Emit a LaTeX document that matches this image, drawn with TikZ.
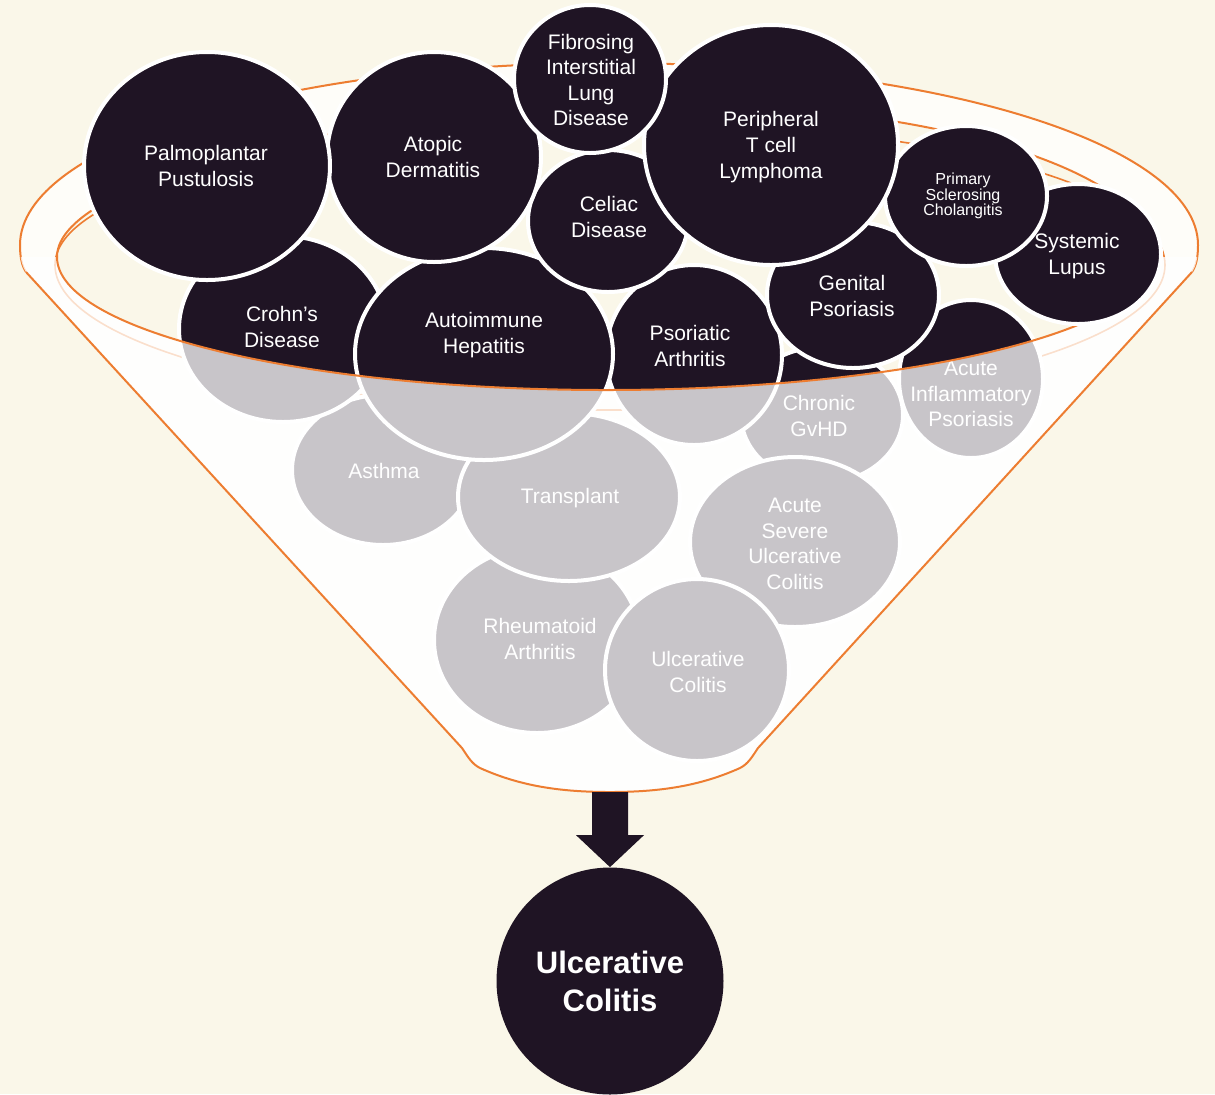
\documentclass[tikz,border=0pt]{standalone}
\usepackage{fontspec}
\setmainfont{Liberation Sans}
\usetikzlibrary{shapes.geometric,calc}
\definecolor{bgc}{RGB}{250,247,233}
\definecolor{bandc}{RGB}{254,253,249}
\definecolor{darkc}{RGB}{31,20,36}
\definecolor{orangec}{RGB}{237,125,49}
\begin{document}
\begin{tikzpicture}[x=0.5pt,y=-0.5pt,
  bubble/.style={ellipse, draw=white, line width=2pt, fill=darkc, inner sep=0pt},
  lbl/.style={text=white, align=center, font=\fontsize{10.5}{12.8}\selectfont, inner sep=0pt},
  smalllbl/.style={text=white, align=center, font=\fontsize{8}{7.8}\selectfont, inner sep=0pt},
  rim/.style={draw=orangec, line width=1pt},
  rimthin/.style={draw=orangec, line width=0.8pt}]
\useasboundingbox (0,0) rectangle (1215,1094);
\fill[bgc] (0,0) rectangle (1215,1094);
% funnel body
\fill[bandc] (20,245) .. controls (20,144.5) and (284,63) .. (609,63) .. controls (934,63) and (1198,144.5) .. (1198,245) .. controls (1198,258) and (1196,266) .. (1192,272) -- (758,748) .. controls (752,757) and (748,764) .. (740,768) .. controls (700,786) and (660,792) .. (610,792) .. controls (560,792) and (520,786) .. (480,768) .. controls (472,764) and (468,757) .. (462,748) -- (26,272) .. controls (22,266) and (20,258) .. (20,245) -- cycle;
% interior of inner rim
\fill[bgc] (57,257) .. controls (57,175) and (380,106) .. (655,104) .. controls (929,102) and (1155,170) .. (1155,257) .. controls (1155,330.4) and (909,390) .. (606,390) .. controls (303,390) and (57,330.4) .. (57,257) -- cycle;
% lower rim edge
\draw[rimthin] (55,265) .. controls (55,185) and (325,125) .. (655,125) .. controls (935,125) and (1165,185) .. (1165,265) .. controls (1165,345) and (916,410) .. (610,410) .. controls (304,410) and (55,345) .. (55,265) -- cycle;
% back of inner rim
\draw[rim] (57,257) .. controls (57,175) and (380,106) .. (655,104) .. controls (929,102) and (1155,170) .. (1155,257);
% outer rim top
\draw[rim] (26,272) .. controls (22,266) and (20,258) .. (20,245) .. controls (20,144.5) and (284,63) .. (609,63) .. controls (934,63) and (1198,144.5) .. (1198,245) .. controls (1198,258) and (1196,266) .. (1192,272);

% bubbles crossing the front rim
\node[bubble, minimum width=72pt, minimum height=79pt] (aip) at (971,379) {};
\node[lbl] (aipT) at (971,394) {Acute\\Inflammatory\\Psoriasis};
\node[bubble, minimum width=81pt, minimum height=68pt] (chronic) at (822,415) {};
\node[lbl] (chronicT) at (819,416) {Chronic\\GvHD};
\node[bubble, minimum width=103pt, minimum height=93pt] (rheum) at (537,640) {};
\node[lbl] (rheumT) at (540,639) {Rheumatoid\\Arthritis};
\node[bubble, minimum width=91pt, minimum height=75pt] (asthma) at (383,470) {};
\node[lbl] (asthmaT) at (384,471) {Asthma};
\node[bubble, minimum width=111pt, minimum height=84pt] (transplant) at (569,497) {};
\node[lbl] (transplantT) at (570,498) {Transplant};
\node[bubble, minimum width=105pt, minimum height=85pt] (asuc) at (795,542) {};
\node[lbl] (asucT) at (795,544) {Acute\\Severe\\Ulcerative\\Colitis};
\node[bubble, minimum width=92pt, minimum height=91pt] (ucgray) at (697,670) {};
\node[lbl] (ucgrayT) at (698,672) {Ulcerative\\Colitis};
\node[bubble, minimum width=104pt, minimum height=93pt] (crohn) at (283,329) {};
\node[lbl] (crohnT) at (282,327) {Crohn’s\\Disease};
\node[bubble, minimum width=88pt, minimum height=90pt] (psoriatic) at (694,355) {};
\node[lbl] (psoriaticT) at (690,346) {Psoriatic\\Arthritis};
\node[bubble, minimum width=129pt, minimum height=106pt] (autoimm) at (484,354) {};
\node[lbl] (autoimmT) at (484,335) {Autoimmune\\Hepatitis};

% front of funnel (semi-transparent)
\begin{scope}
\clip (20,245) .. controls (20,144.5) and (284,63) .. (609,63) .. controls (934,63) and (1198,144.5) .. (1198,245) .. controls (1198,258) and (1196,266) .. (1192,272) -- (758,748) .. controls (752,757) and (748,764) .. (740,768) .. controls (700,786) and (660,792) .. (610,792) .. controls (560,792) and (520,786) .. (480,768) .. controls (472,764) and (468,757) .. (462,748) -- (26,272) .. controls (22,266) and (20,258) .. (20,245) -- cycle;
\fill[white, fill opacity=0.755] (0,257) -- (57,257) .. controls (57,330.4) and (303,390) .. (606,390) .. controls (909,390) and (1155,330.4) .. (1155,257) -- (1215,257) -- (1215,1094) -- (0,1094) -- cycle;
\end{scope}
% front of inner rim
\draw[rim] (57,257) .. controls (57,330.4) and (303,390) .. (606,390) .. controls (909,390) and (1155,330.4) .. (1155,257);
% funnel sides and bottom
\draw[rim] (1192,272) -- (758,748) .. controls (752,757) and (748,764) .. (740,768) .. controls (700,786) and (660,792) .. (610,792) .. controls (560,792) and (520,786) .. (480,768) .. controls (472,764) and (468,757) .. (462,748) -- (26,272);

% bubbles above the front rim
\node[bubble, minimum width=86pt, minimum height=73pt] (genital) at (853,295) {};
\node[lbl] (genitalT) at (852,296) {Genital\\Psoriasis};
\node[bubble, minimum width=83pt, minimum height=70pt] (lupus) at (1078,254) {};
\node[lbl] (lupusT) at (1077,256) {Systemic\\Lupus};
\node[bubble, minimum width=80pt, minimum height=71pt] (celiac) at (608,221) {};
\node[lbl] (celiacT) at (609,217) {Celiac\\Disease};
\node[bubble, minimum width=107pt, minimum height=105pt] (atopic) at (434,157) {};
\node[lbl] (atopicT) at (433,157) {Atopic\\Dermatitis};
\node[bubble, minimum width=123pt, minimum height=114pt] (palm) at (207,166) {};
\node[lbl] (palmT) at (206,166) {Palmoplantar\\Pustulosis};
\node[bubble, minimum width=81pt, minimum height=70pt] (primary) at (966,196) {};
\node[smalllbl] (primaryT) at (963,196) {Primary\\Sclerosing\\Cholangitis};
\node[bubble, minimum width=127pt, minimum height=120pt] (periph) at (771,145) {};
\node[lbl] (periphT) at (771,147) {Peripheral\\T cell\\Lymphoma};
\node[bubble, minimum width=76pt, minimum height=74pt] (fibro) at (590,79) {};
\node[lbl] (fibroT) at (591,80) {Fibrosing\\Interstitial\\Lung\\Disease};

% result
\coordinate (funnelbase) at (610,792);
\node[circle, fill=darkc, minimum size=113.5pt, inner sep=0pt, text=white, align=center, font=\bfseries\fontsize{15.5}{19}\selectfont] (ucfinal) at (610,981) {Ulcerative\\Colitis};
\fill[darkc] ($(funnelbase)+(-18,0)$) -- ($(funnelbase)+(18,0)$) -- ($(ucfinal.north)+(18,-32)$) -- ($(ucfinal.north)+(34,-32)$) -- (ucfinal.north) -- ($(ucfinal.north)+(-34,-32)$) -- ($(ucfinal.north)+(-18,-32)$) -- cycle;
\end{tikzpicture}
\end{document}
